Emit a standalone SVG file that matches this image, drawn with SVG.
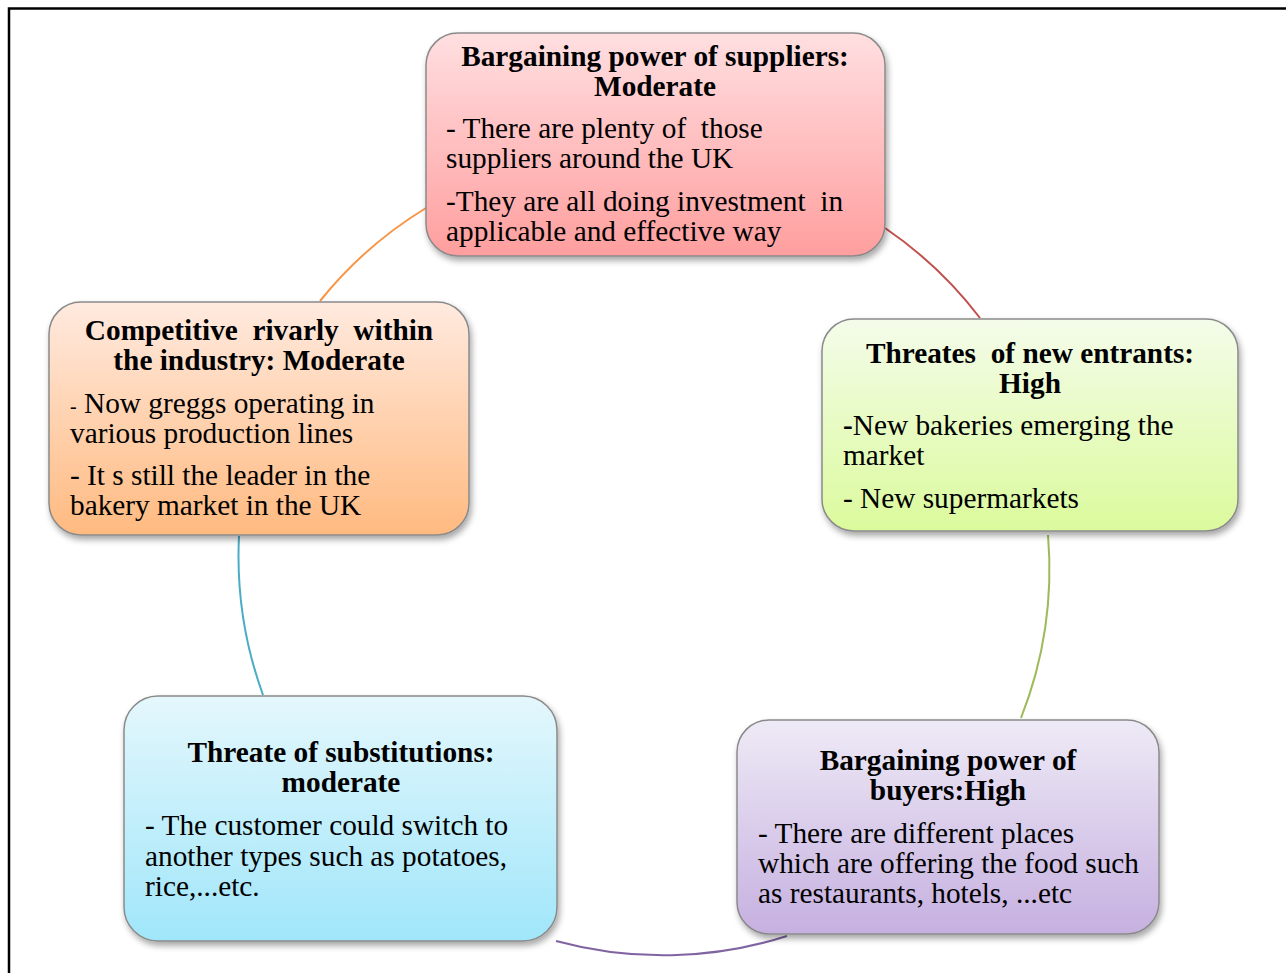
<svg xmlns="http://www.w3.org/2000/svg" width="1286" height="973" viewBox="0 0 1286 973">
<defs>
<linearGradient id="gRed" x1="0" y1="0" x2="0" y2="1"><stop offset="0" stop-color="#FFDFE1"/><stop offset="1" stop-color="#FF9E9E"/></linearGradient>
<linearGradient id="gOrange" x1="0" y1="0" x2="0" y2="1"><stop offset="0" stop-color="#FFEADF"/><stop offset="1" stop-color="#FFBA80"/></linearGradient>
<linearGradient id="gGreen" x1="0" y1="0" x2="0" y2="1"><stop offset="0" stop-color="#F4FCEA"/><stop offset="1" stop-color="#DBFA9C"/></linearGradient>
<linearGradient id="gBlue" x1="0" y1="0" x2="0" y2="1"><stop offset="0" stop-color="#E4F7FC"/><stop offset="1" stop-color="#A0E6FA"/></linearGradient>
<linearGradient id="gPurple" x1="0" y1="0" x2="0" y2="1"><stop offset="0" stop-color="#EEEAF6"/><stop offset="1" stop-color="#C6B0E0"/></linearGradient>
<filter id="sh" x="-10%" y="-10%" width="125%" height="130%"><feDropShadow dx="2" dy="4" stdDeviation="3" flood-color="#000" flood-opacity="0.35"/></filter>
</defs>
<style>
.box{stroke:#8a8a8a;stroke-width:1.5;filter:url(#sh)}
.t{font-family:"Liberation Serif","Times New Roman",serif;font-size:29.3px;font-weight:bold;fill:#000;text-anchor:middle;white-space:pre}
.b{font-family:"Liberation Serif","Times New Roman",serif;font-size:29.3px;fill:#000;white-space:pre}
.c{fill:none;stroke-width:2}
</style>
<rect width="1286" height="973" fill="#fff"/>
<g id="frame" stroke="#000" stroke-width="2.5" fill="none"><path d="M9,973 V8.5 H1286"/></g>
<g id="connectors">
<path class="c" stroke="#F79646" d="M320,301 A407,407 0 0,1 426,208"/>
<path class="c" stroke="#C0504D" d="M885,228 A407,407 0 0,1 980,318"/>
<path class="c" stroke="#9BBB59" d="M1048,535 A407,407 0 0,1 1021,718"/>
<path class="c" stroke="#8064A2" d="M787,936 A407,407 0 0,1 556,941"/>
<path class="c" stroke="#4BACC6" d="M263,695 A407,407 0 0,1 239,536"/>
</g>
<g id="suppliers">
<rect class="box" x="426" y="33" width="459" height="223" rx="32" fill="url(#gRed)"/>
<text class="t" x="655" y="66">Bargaining power of suppliers:</text>
<text class="t" x="655" y="96">Moderate</text>
<text class="b" x="446" y="138">- There are plenty of  those</text>
<text class="b" x="446" y="168">suppliers around the UK</text>
<text class="b" x="446" y="211">-They are all doing investment  in</text>
<text class="b" x="446" y="241">applicable and effective way</text>
</g>
<g id="rivalry">
<rect class="box" x="49" y="302" width="420" height="233" rx="32" fill="url(#gOrange)"/>
<text class="t" x="259" y="340">Competitive  rivarly  within</text>
<text class="t" x="259" y="370">the industry: Moderate</text>
<text class="b" x="70" y="413"><tspan font-size="20">-</tspan> Now greggs operating in</text>
<text class="b" x="70" y="443">various production lines</text>
<text class="b" x="70" y="485">- It s still the leader in the</text>
<text class="b" x="70" y="515">bakery market in the UK</text>
</g>
<g id="entrants">
<rect class="box" x="822" y="319" width="416" height="212" rx="32" fill="url(#gGreen)"/>
<text class="t" x="1030" y="363">Threates  of new entrants:</text>
<text class="t" x="1030" y="393">High</text>
<text class="b" x="843" y="435"><tspan font-weight="bold">-</tspan>New bakeries emerging the</text>
<text class="b" x="843" y="465">market</text>
<text class="b" x="843" y="508">- New supermarkets</text>
</g>
<g id="substitutes">
<rect class="box" x="124" y="696" width="433" height="245" rx="34" fill="url(#gBlue)"/>
<text class="t" x="341" y="762">Threate of substitutions:</text>
<text class="t" x="341" y="792">moderate</text>
<text class="b" x="145" y="835">- The customer could switch to</text>
<text class="b" x="145" y="866">another types such as potatoes,</text>
<text class="b" x="145" y="896">rice,...etc.</text>
</g>
<g id="buyers">
<rect class="box" x="737" y="720" width="422" height="214" rx="32" fill="url(#gPurple)"/>
<text class="t" x="948" y="770">Bargaining power of</text>
<text class="t" x="948" y="800">buyers:High</text>
<text class="b" x="758" y="843">- There are different places</text>
<text class="b" x="758" y="873">which are offering the food such</text>
<text class="b" x="758" y="903">as restaurants, hotels, ...etc</text>
</g>
</svg>
